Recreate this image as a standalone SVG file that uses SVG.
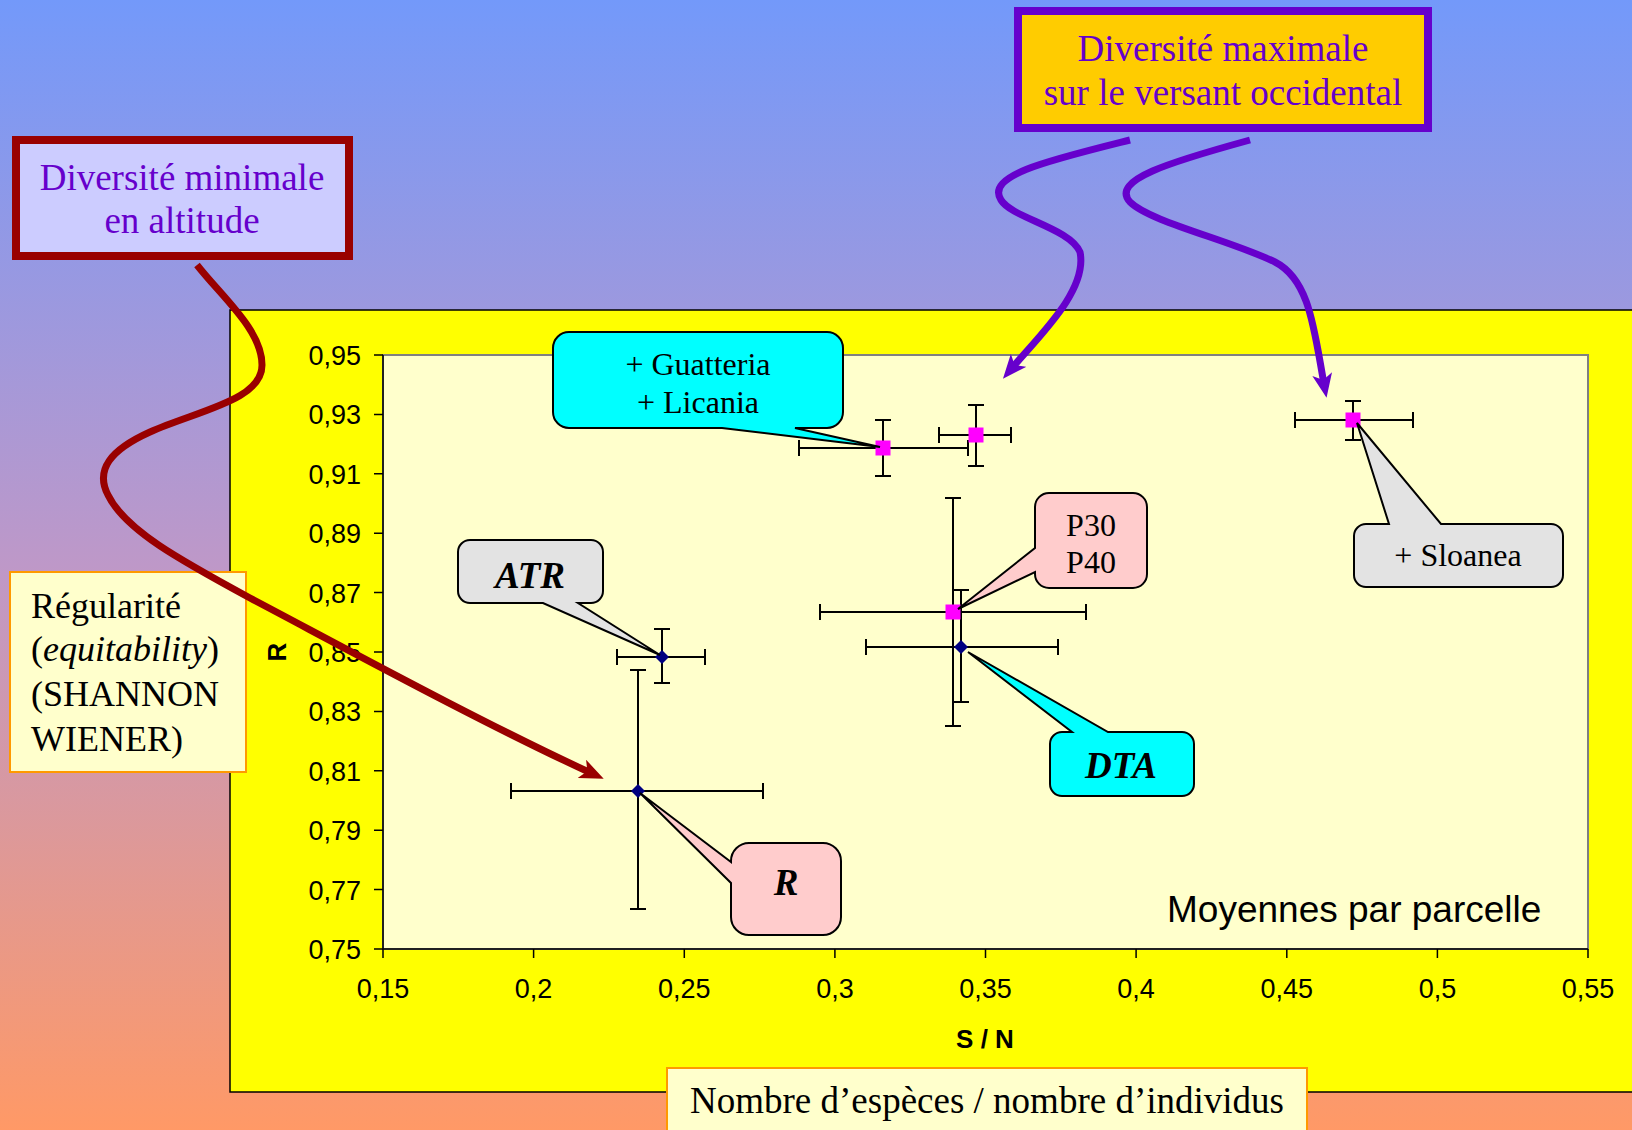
<svg xmlns="http://www.w3.org/2000/svg" width="1632" height="1130" viewBox="0 0 1632 1130">
<defs>
<linearGradient id="bg" x1="0" y1="0" x2="0" y2="1">
<stop offset="0" stop-color="#7399FA"/>
<stop offset="0.5" stop-color="#BE98C8"/>
<stop offset="1" stop-color="#FF9966"/>
</linearGradient>
<marker id="ahRed" markerUnits="userSpaceOnUse" viewBox="0 0 24 20" refX="10" refY="10" markerWidth="24" markerHeight="20" orient="auto">
<path d="M0,0 L24,10 L0,20 L6,10 Z" fill="#990000"/>
</marker>
<marker id="ahPurple" markerUnits="userSpaceOnUse" viewBox="0 0 24 20" refX="10" refY="10" markerWidth="24" markerHeight="20" orient="auto">
<path d="M0,0 L24,10 L0,20 L6,10 Z" fill="#6600CC"/>
</marker>
</defs>
<style>
.serif{font-family:"Liberation Serif","Times New Roman",serif;}
.sans{font-family:"Liberation Sans",Arial,sans-serif;}
.ylab{font-family:"Liberation Sans",Arial,sans-serif;font-size:27px;text-anchor:end;fill:#000;}
.xlab{font-family:"Liberation Sans",Arial,sans-serif;font-size:27px;text-anchor:middle;fill:#000;}
.tick{stroke:#000;stroke-width:1.5;fill:none;}
.err{stroke:#000;stroke-width:2;fill:none;}
.sq{fill:#FF00FF;}
.dia{fill:#000080;}
.callout{stroke:#000;stroke-width:2;}
.ctext{font-family:"Liberation Serif","Times New Roman",serif;font-size:32px;text-anchor:middle;fill:#000;}
.btext{font-family:"Liberation Serif","Times New Roman",serif;font-size:37px;font-weight:bold;font-style:italic;text-anchor:middle;fill:#000;}
.divtext{font-family:"Liberation Serif","Times New Roman",serif;font-size:37px;text-anchor:middle;fill:#6600CC;}
.arrowRed{stroke:#990000;stroke-width:7;fill:none;marker-end:url(#ahRed);}
.arrowPurple{stroke:#6600CC;stroke-width:7;fill:none;marker-end:url(#ahPurple);}
</style>

<rect x="0" y="0" width="1632" height="1130" fill="url(#bg)"/>

<g id="chart">
<rect x="230" y="310" width="1410" height="782" fill="#FFFF00" stroke="#000" stroke-width="1.5"/>
<rect x="383" y="355" width="1205" height="594" fill="#FFFFCC" stroke="#808080" stroke-width="2"/>
<path class="tick" d="M383,355 V949 H1588"/>
<path class="tick" d="M374,355 H383 M374,414.4 H383 M374,473.8 H383 M374,533.2 H383 M374,592.6 H383 M374,652 H383 M374,711.4 H383 M374,770.8 H383 M374,830.2 H383 M374,889.6 H383 M374,949 H383"/>
<path class="tick" d="M383,949 V958 M533.6,949 V958 M684.3,949 V958 M834.9,949 V958 M985.5,949 V958 M1136.1,949 V958 M1286.8,949 V958 M1437.4,949 V958 M1588,949 V958"/>
<text class="ylab" x="361" y="365">0,95</text>
<text class="ylab" x="361" y="424.4">0,93</text>
<text class="ylab" x="361" y="483.8">0,91</text>
<text class="ylab" x="361" y="543.2">0,89</text>
<text class="ylab" x="361" y="602.6">0,87</text>
<text class="ylab" x="361" y="662">0,85</text>
<text class="ylab" x="361" y="721.4">0,83</text>
<text class="ylab" x="361" y="780.8">0,81</text>
<text class="ylab" x="361" y="840.2">0,79</text>
<text class="ylab" x="361" y="899.6">0,77</text>
<text class="ylab" x="361" y="959">0,75</text>
<text class="xlab" x="383" y="998">0,15</text>
<text class="xlab" x="533.6" y="998">0,2</text>
<text class="xlab" x="684.3" y="998">0,25</text>
<text class="xlab" x="834.9" y="998">0,3</text>
<text class="xlab" x="985.5" y="998">0,35</text>
<text class="xlab" x="1136.1" y="998">0,4</text>
<text class="xlab" x="1286.8" y="998">0,45</text>
<text class="xlab" x="1437.4" y="998">0,5</text>
<text class="xlab" x="1588" y="998">0,55</text>
<text class="sans" x="985" y="1048" font-size="26" font-weight="bold" text-anchor="middle">S / N</text>
<text class="sans" transform="translate(286,652) rotate(-90)" font-size="26" font-weight="bold" text-anchor="middle">R</text>
<text class="sans" x="1167" y="922" font-size="37">Moyennes par parcelle</text>
</g>

<g id="errorbars">
<path class="err" d="M799,448 H968 M799,440 V456 M968,440 V456 M883,420 V476 M875,420 H891 M875,476 H891"/>
<path class="err" d="M939,435 H1011 M939,427 V443 M1011,427 V443 M976,405 V466 M968,405 H984 M968,466 H984"/>
<path class="err" d="M1295,420 H1413 M1295,412 V428 M1413,412 V428 M1353,401 V440 M1345,401 H1361 M1345,440 H1361"/>
<path class="err" d="M820,612 H1086 M820,604 V620 M1086,604 V620 M953,498 V726 M945,498 H961 M945,726 H961"/>
<path class="err" d="M617,657 H705 M617,649 V665 M705,649 V665 M662,629 V683 M654,629 H670 M654,683 H670"/>
<path class="err" d="M511,791 H763 M511,783 V799 M763,783 V799 M638,670 V909 M630,670 H646 M630,909 H646"/>
<path class="err" d="M866,647 H1058 M866,639 V655 M1058,639 V655 M961,590 V702 M953,590 H969 M953,702 H969"/>
</g>

<g id="markers">
<rect class="sq" x="875.5" y="440.5" width="15" height="15"/>
<rect class="sq" x="968.5" y="427.5" width="15" height="15"/>
<rect class="sq" x="1345.5" y="412.5" width="15" height="15"/>
<rect class="sq" x="945.5" y="604.5" width="15" height="15"/>
<path class="dia" d="M662,650 L669,657 L662,664 L655,657 Z"/>
<path class="dia" d="M638,784 L645,791 L638,798 L631,791 Z"/>
<path class="dia" d="M961,640 L968,647 L961,654 L954,647 Z"/>
</g>

<g id="callout-guatteria">
<path class="callout" fill="#00FFFF" d="M569,332 H827 A16,16 0 0 1 843,348 V412 A16,16 0 0 1 827,428 H795 L880,447 L722,428 H569 A16,16 0 0 1 553,412 V348 A16,16 0 0 1 569,332 Z"/>
<text class="ctext" x="698" y="375">+ Guatteria</text>
<text class="ctext" x="698" y="413">+ Licania</text>
</g>

<g id="callout-sloanea">
<path class="callout" fill="#E3E3E3" d="M1366,524 H1389 L1357,423 L1441,524 H1551 A12,12 0 0 1 1563,536 V575 A12,12 0 0 1 1551,587 H1366 A12,12 0 0 1 1354,575 V536 A12,12 0 0 1 1366,524 Z"/>
<text class="ctext" x="1458" y="566">+ Sloanea</text>
</g>

<g id="callout-atr">
<path class="callout" fill="#E3E3E3" d="M470,540 H591 A12,12 0 0 1 603,552 V591 A12,12 0 0 1 591,603 H578 L660,655 L543,603 H470 A12,12 0 0 1 458,591 V552 A12,12 0 0 1 470,540 Z"/>
<text class="btext" x="530" y="588">ATR</text>
</g>

<g id="callout-r">
<path class="callout" fill="#FFCCCC" d="M749,843 H823 A18,18 0 0 1 841,861 V917 A18,18 0 0 1 823,935 H749 A18,18 0 0 1 731,917 V883 L640,793 L731,862 V861 A18,18 0 0 1 749,843 Z"/>
<text class="btext" x="786" y="895">R</text>
</g>

<g id="callout-p30">
<path class="callout" fill="#FFCCCC" d="M1049,493 H1133 A14,14 0 0 1 1147,507 V574 A14,14 0 0 1 1133,588 H1049 A14,14 0 0 1 1035,574 V572 L958,609 L1035,548 V507 A14,14 0 0 1 1049,493 Z"/>
<text class="ctext" x="1091" y="536">P30</text>
<text class="ctext" x="1091" y="573">P40</text>
</g>

<g id="callout-dta">
<path class="callout" fill="#00FFFF" d="M1062,732 H1072 L968,652 L1108,732 H1182 A12,12 0 0 1 1194,744 V784 A12,12 0 0 1 1182,796 H1062 A12,12 0 0 1 1050,784 V744 A12,12 0 0 1 1062,732 Z"/>
<text class="btext" x="1121" y="778">DTA</text>
</g>

<g id="box-regularite">
<rect x="10" y="572" width="236" height="200" fill="#FFFFCC" stroke="#FF9900" stroke-width="2"/>
<text class="serif" font-size="36" fill="#000">
<tspan x="31" y="618">Régularité</tspan>
<tspan x="31" y="661">(<tspan font-style="italic">equitability</tspan>)</tspan>
<tspan x="31" y="706">(SHANNON</tspan>
<tspan x="31" y="751">WIENER)</tspan>
</text>
</g>

<g id="box-nombre">
<rect x="667" y="1068" width="640" height="80" fill="#FFFFCC" stroke="#FF9900" stroke-width="2"/>
<text class="serif" x="987" y="1113" font-size="37" text-anchor="middle" fill="#000">Nombre d’espèces / nombre d’individus</text>
</g>

<g id="box-min">
<rect x="16" y="140" width="333" height="116" fill="#CCCCFF" stroke="#990000" stroke-width="8"/>
<text class="divtext" x="182" y="190">Diversité minimale</text>
<text class="divtext" x="182" y="233">en altitude</text>
</g>

<g id="box-max">
<rect x="1018" y="11" width="410" height="117" fill="#FFCC00" stroke="#6600CC" stroke-width="8"/>
<text class="divtext" x="1223" y="61">Diversité maximale</text>
<text class="divtext" x="1223" y="105">sur le versant occidental</text>
</g>

<g id="connectors">
<path class="arrowRed" d="M197,265 C222,297 262,330 262,365 C262,400 200,410 150,432 C110,450 95,470 108,495 C125,530 180,560 250,598 C330,640 480,722 591,773"/>
<path class="arrowPurple" d="M1130,140 C1050,160 985,175 1001,200 C1012,218 1070,228 1080,252 C1088,290 1040,335 1012,368"/>
<path class="arrowPurple" d="M1250,140 C1170,162 1110,180 1130,202 C1150,222 1230,240 1275,262 C1310,280 1314,330 1324,384"/>
</g>
</svg>
